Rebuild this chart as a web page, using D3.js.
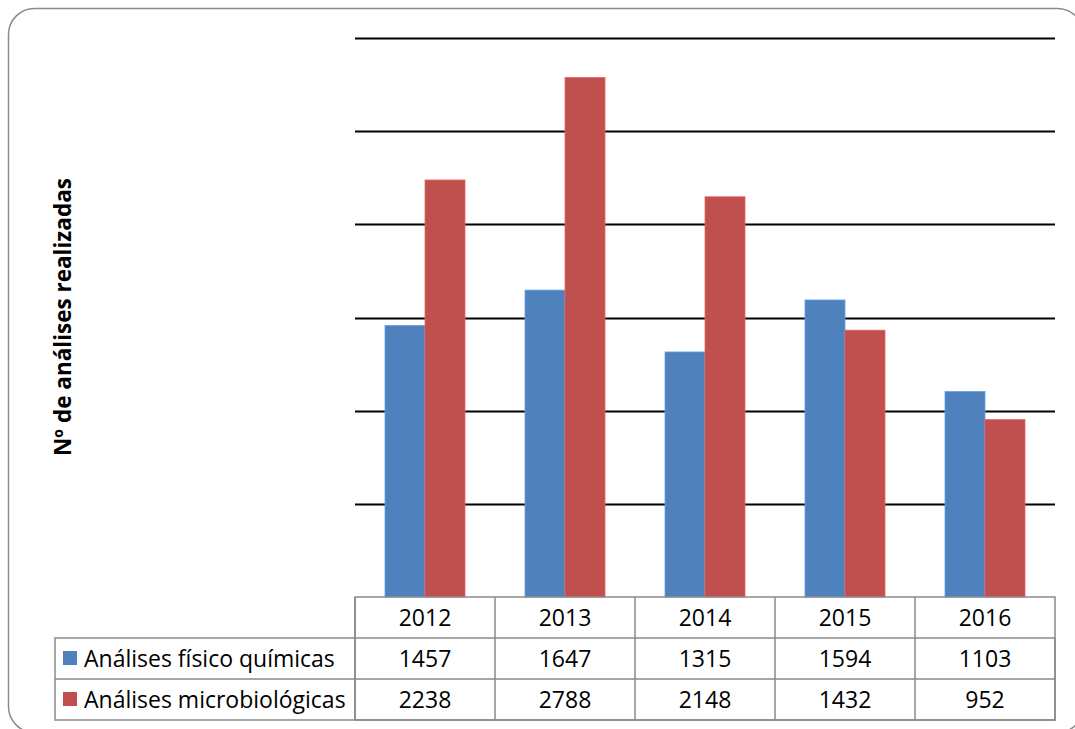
<!DOCTYPE html>
<html>
<head>
<meta charset="utf-8">
<script src="https://cdn.jsdelivr.net/npm/d3@7"></script>
<style>
  html, body { margin: 0; padding: 0; background: #fff; }
  svg { display: block; }
  text { font-family: "Open Sans", "Noto Sans", sans-serif; }
</style>
</head>
<body>
<svg id="chart" width="1075" height="729"></svg>
<script>
// Annual counts of analyses, by type
const years = ["2012", "2013", "2014", "2015", "2016"];
const seriesNames = ["Análises físico químicas", "Análises microbiológicas"];
const fisicoQuimicas = [1457, 1647, 1315, 1594, 1103];
const microbiologicas = [2238, 2788, 2148, 1432, 952];
const gridTicks = [500, 1000, 1500, 2000, 2500, 3000];
const colors = ["#4F81BD", "#C0504D"];
const yTitle = "Nº de análises realizadas";

const series = [fisicoQuimicas, microbiologicas];

const svg = d3.select("#chart");

// outer rounded frame
svg.append("rect")
  .attr("x", 8.5).attr("y", 8.5)
  .attr("width", 1075).attr("height", 724)
  .attr("rx", 26).attr("ry", 26)
  .attr("fill", "#fff")
  .attr("stroke", "#8c8c8c")
  .attr("stroke-width", 1.5);

const plot = { left: 355, right: 1055, top: 38, bottom: 597 };

const x = d3.scaleBand().domain(years).range([plot.left, plot.right]);
const xInner = d3.scaleBand().domain(d3.range(series.length))
  .range([0, x.bandwidth()]).paddingOuter(0.75).paddingInner(0);
const y = d3.scaleLinear().domain([0, 3000]).range([plot.bottom, plot.top]);

// horizontal gridlines
svg.append("g")
  .selectAll("line")
  .data(gridTicks)
  .join("line")
  .attr("x1", plot.left).attr("x2", plot.right)
  .attr("y1", d => Math.round(y(d)) + 0.5)
  .attr("y2", d => Math.round(y(d)) + 0.5)
  .attr("stroke", "#000")
  .attr("stroke-width", 2);

// grouped bars
const groups = svg.append("g")
  .selectAll("g")
  .data(years)
  .join("g")
  .attr("transform", d => `translate(${x(d)},0)`);

groups.selectAll("rect")
  .data((d, i) => series.map((s, k) => ({ k, v: s[i] })))
  .join("rect")
  .attr("x", d => xInner(d.k))
  .attr("width", xInner.bandwidth())
  .attr("y", d => y(d.v))
  .attr("height", d => y(0) - y(d.v))
  .attr("fill", d => colors[d.k])
  .attr("stroke", d => d3.color(colors[d.k]).brighter(0.6))
  .attr("stroke-width", 0.8);

// data table below the plot
const rowH = 41;
const tableLeft = 55;
const tableColor = "#8a8a8a";
const fontSize = 23;
const t = svg.append("g");

t.append("rect")
  .attr("x", plot.left).attr("y", plot.bottom)
  .attr("width", plot.right - plot.left).attr("height", rowH * 3)
  .attr("fill", "none").attr("stroke", tableColor).attr("stroke-width", 1.5);
t.append("rect")
  .attr("x", tableLeft).attr("y", plot.bottom + rowH)
  .attr("width", plot.right - tableLeft).attr("height", rowH * 2)
  .attr("fill", "none").attr("stroke", tableColor).attr("stroke-width", 1.5);
t.append("line")
  .attr("x1", tableLeft).attr("x2", plot.right)
  .attr("y1", plot.bottom + rowH * 2).attr("y2", plot.bottom + rowH * 2)
  .attr("stroke", tableColor).attr("stroke-width", 1.5);
t.selectAll("line.col")
  .data(years)
  .join("line")
  .attr("class", "col")
  .attr("x1", d => x(d)).attr("x2", d => x(d))
  .attr("y1", plot.bottom).attr("y2", plot.bottom + rowH * 3)
  .attr("stroke", tableColor).attr("stroke-width", 1.5);

// header row with years
t.selectAll("text.year")
  .data(years)
  .join("text")
  .attr("class", "year")
  .attr("x", d => x(d) + x.bandwidth() / 2)
  .attr("y", plot.bottom + rowH / 2 + 8)
  .attr("text-anchor", "middle")
  .attr("font-size", fontSize)
  .text(d => d);

// one row per series: legend key, name and values
series.forEach((s, k) => {
  const rowY = plot.bottom + rowH * (k + 1);
  t.append("rect")
    .attr("x", 63).attr("y", rowY + 13)
    .attr("width", 14).attr("height", 14)
    .attr("fill", colors[k]);
  t.append("text")
    .attr("x", 84).attr("y", rowY + rowH / 2 + 8)
    .attr("font-size", fontSize)
    .text(seriesNames[k]);
  t.selectAll(null)
    .data(s)
    .join("text")
    .attr("x", (d, i) => x(years[i]) + x.bandwidth() / 2)
    .attr("y", rowY + rowH / 2 + 8)
    .attr("text-anchor", "middle")
    .attr("font-size", fontSize)
    .text(d => d);
});

// vertical axis title
svg.append("text")
  .attr("transform", "translate(71,317) rotate(-90)")
  .attr("text-anchor", "middle")
  .attr("font-size", 22.5)
  .attr("font-weight", "bold")
  .text(yTitle);
</script>
</body>
</html>
